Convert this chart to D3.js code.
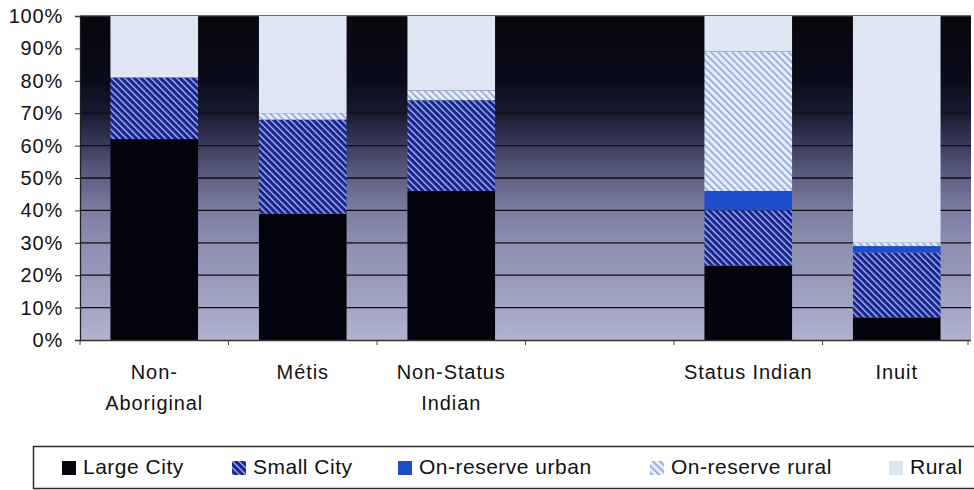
<!DOCTYPE html>
<html>
<head>
<meta charset="utf-8">
<script src="https://cdn.jsdelivr.net/npm/d3@7/dist/d3.min.js"></script>
<style>
  html, body { margin: 0; padding: 0; background: #ffffff; }
  svg { display: block; }
  text { font-family: "Liberation Sans", Arial, sans-serif; fill: #111; }
</style>
</head>
<body>
<svg id="chart" width="974" height="490"></svg>
<script>
// Share of each population living in each type of community (percent)
const categories = ["Non-Aboriginal", "Métis", "Non-Status Indian", "", "Status Indian", "Inuit"];
const categoryLines = [["Non-", "Aboriginal"], ["Métis"], ["Non-Status", "Indian"], [], ["Status Indian"], ["Inuit"]];
const seriesNames = ["Large City", "Small City", "On-reserve urban", "On-reserve rural", "Rural"];
const largeCity       = [62, 39, 46, 0, 23, 7];
const smallCity       = [19, 29, 28, 0, 17, 20];
const onReserveUrban  = [0, 0, 0, 0, 6, 2];
const onReserveRural  = [0, 2, 3, 0, 43, 1];
const rural           = [19, 30, 23, 0, 11, 70];
const yTicks = [0, 10, 20, 30, 40, 50, 60, 70, 80, 90, 100];

const seriesValues = [largeCity, smallCity, onReserveUrban, onReserveRural, rural];
const rows = categories.map((c, i) => {
  const r = { key: c, index: i };
  seriesNames.forEach((s, j) => { r[s] = seriesValues[j][i]; });
  return r;
});

const svg = d3.select("#chart");
const plot = { left: 80, right: 971, top: 16, bottom: 340 };

const x = d3.scaleBand()
  .domain(categories)
  .range([plot.left, plot.right])
  .paddingInner(0.41)
  .paddingOuter(0.205);
const y = d3.scaleLinear().domain([0, 100]).range([plot.bottom, plot.top]);

// ---- fills ----
const defs = svg.append("defs");
const bg = defs.append("linearGradient")
  .attr("id", "bgGrad").attr("x1", 0).attr("y1", 0).attr("x2", 0).attr("y2", 1);
[[0, "#07070f"], [0.2, "#0b0c1a"], [0.3, "#181a30"], [0.4, "#3a3d5c"],
 [0.5, "#5e6184"], [0.6, "#7b7ea0"], [0.7, "#8c8fb0"], [0.8, "#9699b8"],
 [0.9, "#a3a6c3"], [1, "#b1b4cf"]]
  .forEach(([o, c]) => bg.append("stop").attr("offset", o).attr("stop-color", c));

function stripes(id, base, line, gap, lineW) {
  const p = defs.append("pattern")
    .attr("id", id).attr("patternUnits", "userSpaceOnUse")
    .attr("width", gap).attr("height", gap)
    .attr("patternTransform", "rotate(-45)");
  p.append("rect").attr("width", gap).attr("height", gap).attr("fill", base);
  p.append("rect").attr("x", 0).attr("y", 0).attr("width", lineW).attr("height", gap).attr("fill", line);
}
stripes("smallCityFill", "#17248e", "#a9b6ec", 4.6, 1.4);
stripes("resRuralFill", "#e6eefa", "#8aa3df", 5, 1.6);

const fills = {
  "Large City": "#03030b",
  "Small City": "url(#smallCityFill)",
  "On-reserve urban": "#1d4dcb",
  "On-reserve rural": "url(#resRuralFill)",
  "Rural": "#dfe7f4"
};

// ---- plot background and gridlines ----
svg.append("rect")
  .attr("x", plot.left).attr("y", plot.top)
  .attr("width", plot.right - plot.left).attr("height", plot.bottom - plot.top)
  .attr("fill", "url(#bgGrad)");

svg.append("g").selectAll("line")
  .data(yTicks.filter(t => t > 0))
  .join("line")
  .attr("x1", plot.left).attr("x2", plot.right)
  .attr("y1", d => y(d)).attr("y2", d => y(d))
  .attr("stroke", d => d === 100 ? "#3a3a3a" : "#0c0c10")
  .attr("stroke-width", 1.3);

// ---- stacked bars ----
const stack = d3.stack().keys(seriesNames);
const layers = stack(rows);

svg.append("g").selectAll("g")
  .data(layers)
  .join("g")
  .attr("fill", d => fills[d.key])
  .selectAll("rect")
  .data(d => d.filter(s => s[1] - s[0] > 0))
  .join("rect")
  .attr("x", d => x(d.data.key))
  .attr("width", x.bandwidth())
  .attr("y", d => y(d[1]))
  .attr("height", d => y(d[0]) - y(d[1]));

// ---- y axis ----
const yAxis = svg.append("g")
  .attr("transform", `translate(${plot.left},0)`)
  .call(d3.axisLeft(y).tickValues(yTicks).tickFormat(d => d + "%").tickSize(5).tickPadding(12));
yAxis.select(".domain").attr("stroke", "#222").attr("stroke-width", 1.3);
yAxis.selectAll(".tick line").attr("stroke", "#333");
yAxis.selectAll("text")
  .attr("font-size", 20).attr("fill", "#111")
  .style("letter-spacing", "0.8px")
  .attr("font-family", "'Liberation Sans', Arial, sans-serif");

// ---- x axis: baseline and ticks between categories ----
const step = x.step();
const bounds = categories.map(c => x(c) - step * x.paddingInner() / 2).concat([plot.right - 3]);
svg.append("line")
  .attr("x1", plot.left).attr("x2", plot.right)
  .attr("y1", plot.bottom + 0.5).attr("y2", plot.bottom + 0.5)
  .attr("stroke", "#333").attr("stroke-width", 1.3);
svg.append("g").selectAll("line")
  .data(bounds)
  .join("line")
  .attr("x1", d => d).attr("x2", d => d)
  .attr("y1", plot.bottom).attr("y2", plot.bottom + 5)
  .attr("stroke", "#444");

const catLabels = svg.append("g").selectAll("text")
  .data(categories.map((c, i) => ({ key: c, lines: categoryLines[i] })))
  .join("text")
  .attr("text-anchor", "middle")
  .attr("font-size", 20)
  .style("letter-spacing", "0.9px")
  .attr("x", d => x(d.key) + x.bandwidth() / 2)
  .attr("y", 379);
catLabels.selectAll("tspan")
  .data(d => d.lines.map(l => ({ l, cx: x(d.key) + x.bandwidth() / 2 })))
  .join("tspan")
  .attr("x", d => d.cx)
  .attr("dy", (d, i) => i === 0 ? 0 : 31)
  .text(d => d.l);

// ---- legend ----
const legend = svg.append("g");
legend.append("rect")
  .attr("x", 33.5).attr("y", 446.5).attr("width", 950).attr("height", 42)
  .attr("fill", "#fff").attr("stroke", "#2a2a2a").attr("stroke-width", 1.5);

const legendX = [62, 232, 398, 650, 889];
const items = legend.selectAll("g.item")
  .data(seriesNames.map((s, i) => ({ s, x: legendX[i] })))
  .join("g").attr("class", "item")
  .attr("transform", d => `translate(${d.x},0)`);
items.append("rect")
  .attr("x", 0).attr("y", 461).attr("width", 14).attr("height", 14)
  .attr("fill", d => fills[d.s]);
items.append("text")
  .attr("x", 21).attr("y", 474)
  .attr("font-size", 21)
  .style("letter-spacing", "0.5px")
  .text(d => d.s);
</script>
</body>
</html>
